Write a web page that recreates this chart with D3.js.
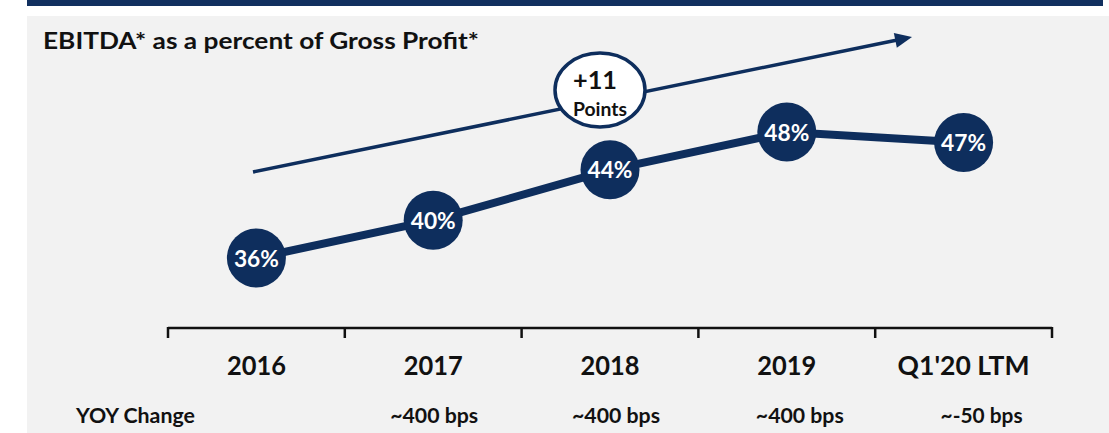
<!DOCTYPE html>
<html>
<head>
<meta charset="utf-8">
<script src="https://cdn.jsdelivr.net/npm/d3@7"></script>
<style>
  html, body { margin: 0; padding: 0; background: #fff; }
  svg { display: block; font-family: Lato, "Open Sans", sans-serif; font-weight: bold; }
</style>
</head>
<body>
<div id="chart"></div>
<script>
// chart data
var categories = ["2016", "2017", "2018", "2019", "Q1'20 LTM"];
var ebitdaPct = [36.0, 39.6, 44.4, 48.0, 47.0];
var valueLabels = ["36%", "40%", "44%", "48%", "47%"];
var yoyLabels = ["", "~400 bps", "~400 bps", "~400 bps", "~-50 bps"];
var title = "EBITDA* as a percent of Gross Profit*";
var badgeLines = ["+11", "Points"];

var W = 1109, H = 433;
var navy = "#0e2e5d";

var svg = d3.select("#chart").append("svg")
  .attr("width", W).attr("height", H);

// header bar + grey panel
svg.append("rect").attr("x", 27).attr("y", 0).attr("width", 1076).attr("height", 6).attr("fill", "#11305f");
svg.append("rect").attr("x", 27).attr("y", 16).attr("width", W - 27).attr("height", H - 16).attr("fill", "#f2f2f2");

// set text to the width it had in the source (source used Calibri)
function fit(sel, w) {
  sel.attr("textLength", w).attr("lengthAdjust", "spacingAndGlyphs");
  return sel;
}

fit(svg.append("text")
  .attr("x", 43).attr("y", 49)
  .style("font-size", "23px").attr("fill", "#111")
  .text(title), 436);

// scales
var x = d3.scaleBand().domain(categories).range([168, 1052]).padding(0);
var y = d3.scaleLinear().domain([30, 50]).range([321, 111]);
var cx = function (c) { return x(c) + x.bandwidth() / 2; };

// trend arrow
var a0 = [253, 172], a1 = [912, 37];
var dx = a1[0] - a0[0], dy = a1[1] - a0[1], len = Math.sqrt(dx * dx + dy * dy);
var ux = dx / len, uy = dy / len, head = 17, half = 7.5;
var base = [a1[0] - ux * head, a1[1] - uy * head];
svg.append("line")
  .attr("x1", a0[0]).attr("y1", a0[1])
  .attr("x2", base[0] + ux * 2).attr("y2", base[1] + uy * 2)
  .attr("stroke", navy).attr("stroke-width", 3.5);
svg.append("polygon")
  .attr("points", [
    a1,
    [base[0] - uy * half, base[1] + ux * half],
    [base[0] + uy * half, base[1] - ux * half]
  ].map(function (p) { return p.join(","); }).join(" "))
  .attr("fill", navy);

// badge
svg.append("ellipse")
  .attr("cx", 600).attr("cy", 90).attr("rx", 45).attr("ry", 37)
  .attr("fill", "#fff").attr("stroke", navy).attr("stroke-width", 3.5);
fit(svg.append("text").attr("x", 595).attr("y", 89)
  .attr("text-anchor", "middle").style("font-size", "24px").attr("fill", "#111")
  .text(badgeLines[0]), 44);
fit(svg.append("text").attr("x", 600).attr("y", 116)
  .attr("text-anchor", "middle").style("font-size", "19px").attr("fill", "#111")
  .text(badgeLines[1]), 54);

// line + markers
var pts = categories.map(function (c, i) { return { c: c, v: ebitdaPct[i], lab: valueLabels[i] }; });
svg.append("path")
  .datum(pts)
  .attr("d", d3.line().x(function (d) { return cx(d.c); }).y(function (d) { return y(d.v); }))
  .attr("fill", "none").attr("stroke", navy).attr("stroke-width", 8);

var g = svg.selectAll("g.pt").data(pts).enter().append("g")
  .attr("transform", function (d) { return "translate(" + cx(d.c) + "," + y(d.v) + ")"; });
g.append("circle").attr("r", 29.5).attr("fill", navy);
g.append("text")
  .attr("text-anchor", "middle").attr("y", 8.5)
  .style("font-size", "23px").attr("fill", "#fff")
  .text(function (d) { return d.lab; })
  .each(function () { fit(d3.select(this), 45); });

// axis: baseline with ticks at band edges
var edges = categories.map(function (c) { return x(c); }).concat([x.range()[1]]);
svg.append("line")
  .attr("x1", x.range()[0]).attr("x2", x.range()[1])
  .attr("y1", 328).attr("y2", 328)
  .attr("stroke", "#111").attr("stroke-width", 2.5);
svg.selectAll("line.tick").data(edges).enter().append("line")
  .attr("x1", function (d) { return d; }).attr("x2", function (d) { return d; })
  .attr("y1", 327).attr("y2", 338)
  .attr("stroke", "#111").attr("stroke-width", 2.5);

svg.selectAll("text.cat").data(categories).enter().append("text")
  .attr("x", function (d) { return cx(d); }).attr("y", 375)
  .attr("text-anchor", "middle").style("font-size", "26px").attr("fill", "#111")
  .text(function (d) { return d; })
  .each(function (d) { fit(d3.select(this), d.length > 4 ? 132 : 59); });

// YOY row
var yoyShift = [0, 1, 6, 13, 18];
fit(svg.append("text").attr("x", 76).attr("y", 423)
  .style("font-size", "20px").attr("fill", "#111")
  .text("YOY Change"), 119);
svg.selectAll("text.yoy").data(categories).enter().append("text")
  .attr("x", function (d, i) { return cx(d) + yoyShift[i]; }).attr("y", 423)
  .attr("text-anchor", "middle").style("font-size", "20px").attr("fill", "#111")
  .text(function (d, i) { return yoyLabels[i]; })
  .each(function (d, i) { if (yoyLabels[i]) fit(d3.select(this), i === 4 ? 82 : 88); });
</script>
</body>
</html>
